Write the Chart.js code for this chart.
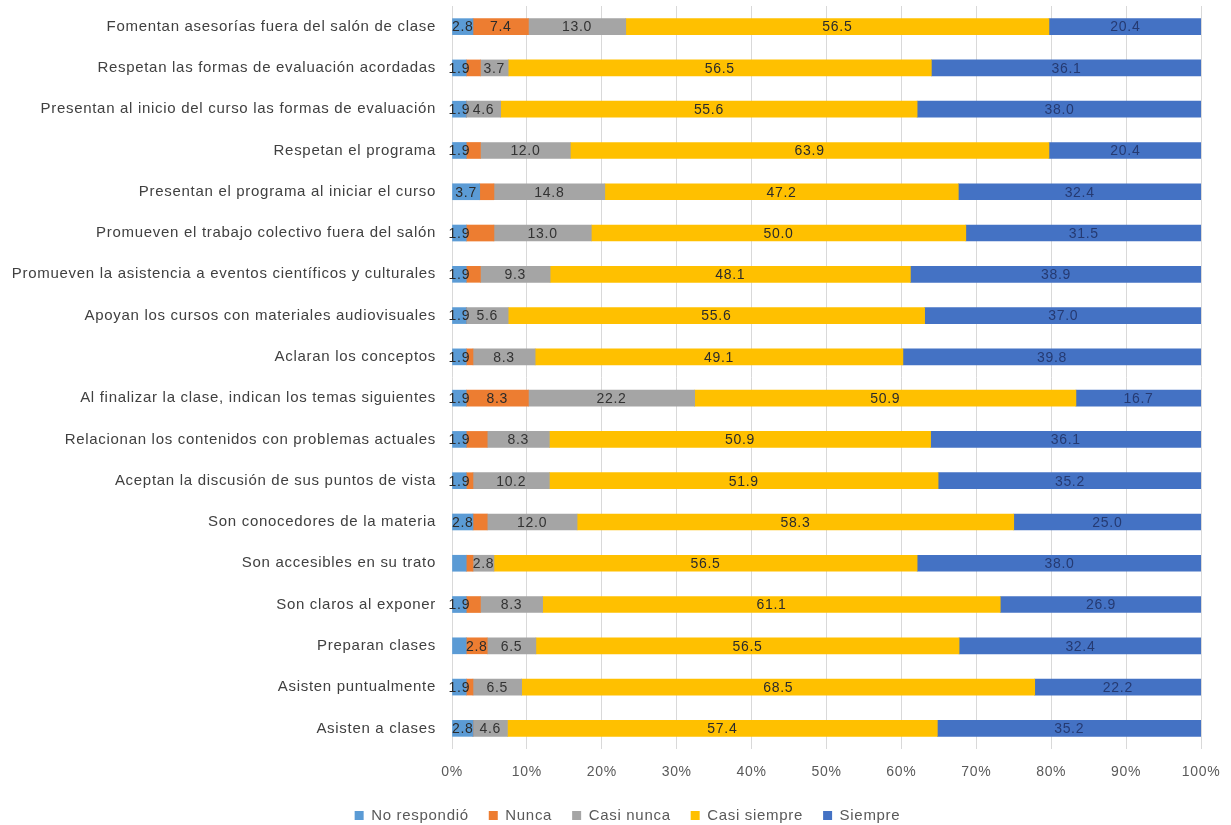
<!DOCTYPE html>
<html>
<head>
<meta charset="utf-8">
<script src="https://cdn.jsdelivr.net/npm/chart.js@4.4.1/dist/chart.umd.min.js"></script>
<style>
html,body{margin:0;padding:0;background:#fff;}
#wrap{width:1231px;height:825px;position:relative;}
</style>
</head>
<body>
<div id="wrap"><canvas id="c" width="1231" height="825"></canvas></div>
<script>
const categories = [
  "Fomentan asesorías fuera del salón de clase",
  "Respetan las formas de evaluación acordadas",
  "Presentan al inicio del curso las formas de evaluación",
  "Respetan el programa",
  "Presentan el programa al iniciar el curso",
  "Promueven el trabajo colectivo fuera del salón",
  "Promueven la asistencia a eventos científicos y culturales",
  "Apoyan los cursos con materiales audiovisuales",
  "Aclaran los conceptos",
  "Al finalizar la clase, indican los temas siguientes",
  "Relacionan los contenidos con problemas actuales",
  "Aceptan la discusión de sus puntos de vista",
  "Son conocedores de la materia",
  "Son accesibles en su trato",
  "Son claros al exponer",
  "Preparan clases",
  "Asisten puntualmente",
  "Asisten a clases"
];
const seriesNames = ["No respondió", "Nunca", "Casi nunca", "Casi siempre", "Siempre"];
const noRespondio = [2.8, 1.9, 1.9, 1.9, 3.7, 1.9, 1.9, 1.9, 1.9, 1.9, 1.9, 1.9, 2.8, 1.9, 1.9, 1.9, 1.9, 2.8];
const nunca       = [7.4, 1.9, 0,   1.9, 1.9, 3.7, 1.9, 0,   0.9, 8.3, 2.8, 0.9, 1.9, 0.9, 1.9, 2.8, 0.9, 0];
const casiNunca   = [13.0, 3.7, 4.6, 12.0, 14.8, 13.0, 9.3, 5.6, 8.3, 22.2, 8.3, 10.2, 12.0, 2.8, 8.3, 6.5, 6.5, 4.6];
const casiSiempre = [56.5, 56.5, 55.6, 63.9, 47.2, 50.0, 48.1, 55.6, 49.1, 50.9, 50.9, 51.9, 58.3, 56.5, 61.1, 56.5, 68.5, 57.4];
const siempre     = [20.4, 36.1, 38.0, 20.4, 32.4, 31.5, 38.9, 37.0, 39.8, 16.7, 36.1, 35.2, 25.0, 38.0, 26.9, 32.4, 22.2, 35.2];
const xTicks = [0, 10, 20, 30, 40, 50, 60, 70, 80, 90, 100];
// value labels that are not printed in the original: [series, row]
const hiddenLabels = [
  [1,1],[1,3],[1,4],[1,5],[1,6],[1,8],[1,10],[1,11],[1,12],[1,13],[1,14],[1,16],
  [0,13],[0,15]
];

const colors = ["#5B9BD5", "#ED7D31", "#A5A5A5", "#FFC000", "#4472C4"];
const labelColors = ["#2b2b2b", "#2b2b2b", "#333333", "#2b2b2b", "#253a72"];
const allSeries = [noRespondio, nunca, casiNunca, casiSiempre, siempre];
const FONT = '"Liberation Sans", Arial, sans-serif';

const isHidden = (s, r) => hiddenLabels.some(h => h[0] === s && h[1] === r);

const spacingPlugin = {
  id: 'spacing',
  beforeInit(chart){ chart.ctx.letterSpacing = '0.7px'; },
  beforeUpdate(chart){ chart.ctx.letterSpacing = '0.7px'; },
  beforeDraw(chart){ chart.ctx.letterSpacing = '0.7px'; }
};

const legendShift = {
  id: 'legendShift',
  afterLayout(chart){
    if (chart.legend) { chart.legend.left += 27; chart.legend.right += 27; }
  }
};

const valueLabels = {
  id: 'valueLabels',
  afterDatasetsDraw(chart){
    const ctx = chart.ctx;
    ctx.save();
    ctx.font = '14px ' + FONT;
    ctx.textAlign = 'center';
    ctx.textBaseline = 'middle';
    chart.data.datasets.forEach((ds, si) => {
      const meta = chart.getDatasetMeta(si);
      meta.data.forEach((bar, ri) => {
        const v = ds.data[ri];
        if (!v || isHidden(si, ri)) return;
        const p = bar.getProps(['x','base','y'], true);
        const cx = (p.x + p.base) / 2;
        ctx.fillStyle = labelColors[si];
        ctx.fillText(v.toFixed(1), cx, p.y + 1);
      });
    });
    ctx.restore();
  }
};

new Chart(document.getElementById('c'), {
  type: 'bar',
  data: {
    labels: categories,
    datasets: allSeries.map((d, i) => ({
      label: seriesNames[i],
      data: d,
      backgroundColor: colors[i],
      borderWidth: 0,
      barThickness: 16
    }))
  },
  options: {
    indexAxis: 'y',
    responsive: false,
    animation: false,
    devicePixelRatio: 1,
    layout: { padding: { left: 0, right: 30, top: 6, bottom: -8 } },
    scales: {
      x: {
        stacked: true,
        min: 0, max: 100,
        afterBuildTicks(scale){ scale.ticks = xTicks.map(v => ({ value: v })); },
        afterFit(scale){ scale.height = 39; scale.paddingLeft = 0; scale.paddingRight = 0; },
        grid: { color: '#d9d9d9', lineWidth: 1, drawTicks: false },
        border: { display: false },
        ticks: {
          padding: 15,
          color: '#595959',
          font: { family: FONT, size: 14 },
          callback: v => v + '%'
        }
      },
      y: {
        stacked: true,
        afterFit(scale){ scale.width = 452; scale.paddingTop = 0; scale.paddingBottom = 0; },
        grid: { display: false },
        border: { display: false },
        ticks: {
          padding: 8,
          color: '#404040',
          font: { family: FONT, size: 15 }
        }
      }
    },
    plugins: {
      legend: {
        position: 'bottom',
        labels: {
          boxWidth: 9, boxHeight: 9,
          padding: 20,
          color: '#595959',
          font: { family: FONT, size: 15 }
        }
      },
      tooltip: { enabled: false }
    }
  },
  plugins: [spacingPlugin, legendShift, valueLabels]
});
</script>
</body>
</html>
